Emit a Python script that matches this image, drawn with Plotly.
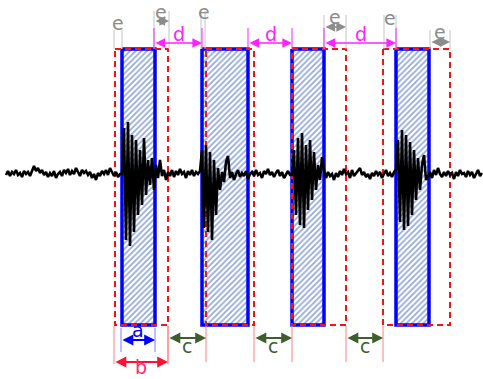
import numpy as np
import plotly.graph_objects as go

# ---- data (pixel-like units of the diagram) ----
sig_t0 = 6
sig_dt = 2
sig_y = [
    175,171,176,172,174,170,175,173,177,171,
    174,172,176,170,166,171,168,173,170,175,
    172,177,173,176,171,178,174,172,176,170,
    173,169,175,171,174,168,172,176,170,173,
    171,175,172,178,174,180,173,176,171,174,
    170,175,168,173,176,172,177,174,
    # burst 1
    174,128,240,122,246,135,232,140,215,150,205,138,195,160,185,158,190,165,
    178,160,176,170,180,172,176,170,177,171,175,169,174,172,178,171,175,170,176,172,174,171,
    # burst 2
    150,228,145,232,152,240,160,215,168,190,172,182,162,156,178,
    172,180,174,170,177,173,176,171,179,174,
    172,176,170,175,173,178,171,174,169,175,
    172,177,173,170,176,172,178,174,171,175,
    # burst 3
    175,150,215,138,225,133,228,145,210,140,200,152,190,165,180,157,
    170,178,172,176,174,180,173,177,171,175,
    169,174,172,178,170,176,173,171,168,175,
    172,177,174,179,173,176,171,175,172,178,
    174,170,176,173,177,172,
    # burst 4
    170,140,222,130,230,135,226,142,215,150,200,158,190,165,155,180,
    176,172,178,170,175,168,174,177,172,176,
    171,175,173,179,172,176,170,174,173,177,
    171,175,172,178,174,170,176,173,
]
sig_x = sig_t0 + sig_dt * np.arange(len(sig_y))

blue_x0 = [122, 202, 292, 396]
blue_x1 = [155, 248, 324, 429]
red_x0 = [115, 206, 292, 383]
red_x1 = [168, 254, 346, 450]
rect_top = 49
rect_bottom = 325

e_marks = [(114, 122), (154, 169), (201, 205), (324, 346), (384, 396), (430, 450)]
d_marks = [(154, 202), (248, 292), (324, 396)]
c_marks = [(168, 206), (254, 292), (346, 383)]
a_mark = (121, 155)
b_mark = (114, 168)

GREY = "#8c8c8c"
GREY_L = "#c4c4c4"
MAG = "#ff22ff"
BLUE = "#0000ff"
RED = "#ff1010"
PINK = "#ff2a6a"
GREEN = "#3e5e2c"
FONT = "DejaVu Sans"
FS = 19

fig = go.Figure()

for x0, x1 in zip(blue_x0, blue_x1):
    fig.add_trace(go.Scatter(
        x=[x0, x1, x1, x0, x0], y=[rect_top, rect_top, rect_bottom, rect_bottom, rect_top],
        mode="lines", fill="toself", fillcolor="white",
        fillpattern=dict(shape="/", fgcolor="#2a55b8", bgcolor="white", size=4, solidity=0.45),
        line=dict(color=BLUE, width=3.5), hoverinfo="skip", showlegend=False))

for x0, x1 in zip(red_x0, red_x1):
    fig.add_trace(go.Scatter(
        x=[x0, x1, x1, x0, x0], y=[rect_top, rect_top, rect_bottom, rect_bottom, rect_top],
        mode="lines", line=dict(color=RED, width=2, dash="6px,4px"),
        hoverinfo="skip", showlegend=False))

fig.add_trace(go.Scatter(x=sig_x, y=sig_y, mode="lines",
                         line=dict(color="black", width=2.6), hoverinfo="skip", showlegend=False))

shapes = []
annotations = []

def vline(x, y0, y1, color):
    shapes.append(dict(type="line", xref="x", yref="y", x0=x, x1=x, y0=y0, y1=y1,
                       line=dict(color=color, width=1)))

def dbl_arrow(x0, x1, y, color, width=1.8):
    annotations.append(dict(x=x1, y=y, ax=x0, ay=y, xref="x", yref="y", axref="x", ayref="y",
                            text="", showarrow=True, arrowside="end+start", arrowhead=2,
                            arrowsize=1.2, arrowwidth=width, arrowcolor=color, standoff=0, startstandoff=0))

def label(x, y, t, color, yanchor="middle"):
    annotations.append(dict(x=x, y=y, xref="x", yref="y", text=t, showarrow=False,
                            yanchor=yanchor, borderpad=0,
                            font=dict(family=FONT, size=FS, color=color)))

e_cfg = [  # (line top, arrow y or None, text x, text y, anchor)
    (30, None, 118, 23, "middle"),
    (11, 21, 161, 0, "top"),
    (11, None, 204, 0, "top"),
    (15, 27, 335, 17, "middle"),
    (15, None, 390, 18, "middle"),
    (30, 42, 440, 32, "middle"),
]
for (xl, xr), (yt, ya, tx, ty, anc) in zip(e_marks, e_cfg):
    vline(xl, yt, rect_top, GREY_L)
    vline(xr, yt, rect_top, GREY_L)
    if ya is not None:
        dbl_arrow(xl, xr, ya, GREY, 1.6)
    label(tx, ty, "e", GREY, anc)

for xl, xr in d_marks:
    vline(xl, 28, rect_top, MAG)
    vline(xr, 28, rect_top, MAG)
    dbl_arrow(xl, xr, 43, MAG, 1.6)
    label((xl + xr) / 2 + 1, 34, "d", MAG)

vline(a_mark[0], 328, 352, "#8080ff")
vline(a_mark[1], 328, 352, "#8080ff")
dbl_arrow(a_mark[0], a_mark[1], 340, BLUE, 1.8)
label((a_mark[0] + a_mark[1]) / 2, 330, "a", BLUE)

vline(b_mark[0], 326, 364, "#ff8080")
vline(b_mark[1], 326, 364, "#ff8080")
dbl_arrow(b_mark[0], b_mark[1], 362, "#ff1030", 1.8)
label((b_mark[0] + b_mark[1]) / 2, 379, "b", PINK, "bottom")

for xl, xr in c_marks:
    vline(xl, 326, 362, "#ff8080")
    vline(xr, 326, 362, "#ff8080")
    dbl_arrow(xl, xr, 338, GREEN, 1.8)
    label((xl + xr) / 2, 346, "c", GREEN)

fig.update_layout(
    width=483, height=379, margin=dict(l=0, r=0, t=0, b=0),
    paper_bgcolor="white", plot_bgcolor="white",
    xaxis=dict(range=[0, 483], visible=False, fixedrange=True),
    yaxis=dict(range=[379, 0], visible=False, fixedrange=True),
    shapes=shapes, annotations=annotations, showlegend=False,
)

fig.write_html("out.html", config=dict(displayModeBar=False, staticPlot=True),
               post_script="document.body.style.margin='0';")
